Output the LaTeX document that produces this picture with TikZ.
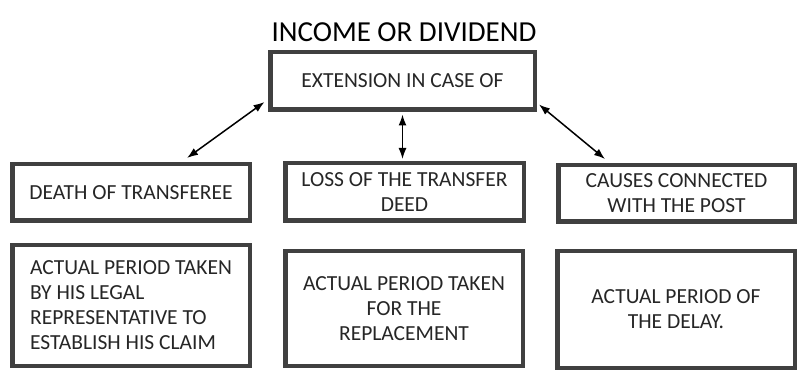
\documentclass[tikz,border=0pt]{standalone}
\usepackage{fontspec}
\setmainfont{Carlito}
\usetikzlibrary{arrows.meta,calc}
\definecolor{boxline}{HTML}{404040}
\definecolor{boxtext}{HTML}{262626}
\begin{document}
\begin{tikzpicture}[x=1pt,y=1pt,
  box/.style={draw=boxline, line width=4.5pt, fill=white, text=boxtext,
    font=\fontsize{21.5}{25}\selectfont, align=center, inner sep=0pt},
  link/.style={line width=1.5pt, {Latex[length=11pt,width=8pt]}-{Latex[length=11pt,width=8pt]}}]
\useasboundingbox (0,0) rectangle (808,372);
\fill[white] (0,0) rectangle (808,372);
\node[font=\fontsize{29}{34}\selectfont] (title) at (404,340) {INCOME OR DIVIDEND};
\node[box, minimum width=264.5pt, minimum height=57.5pt] (top) at (402.5,291) {EXTENSION IN CASE OF};
\node[box, minimum width=237.5pt, minimum height=56.5pt] (b1) at (131,179.5) {DEATH OF TRANSFEREE};
\node[box, minimum width=238.5pt, minimum height=57.5pt] (b2) at (404.5,180) {LOSS OF THE TRANSFER\\DEED};
\node[box, minimum width=236.5pt, minimum height=56.5pt] (b3) at (676.5,178.5) {CAUSES CONNECTED\\WITH THE POST};
\node[box, align=left, minimum width=237.5pt, minimum height=120.5pt] (b4) at (131,66.5) {ACTUAL PERIOD TAKEN\\BY HIS LEGAL\\REPRESENTATIVE TO\\ESTABLISH HIS CLAIM};
\node[box, minimum width=237.5pt, minimum height=114.5pt] (b5) at (404,63.5) {ACTUAL PERIOD TAKEN\\FOR THE\\REPLACEMENT};
\node[box, minimum width=237.5pt, minimum height=116.5pt] (b6) at (676,62.5) {ACTUAL PERIOD OF\\THE DELAY.};
\coordinate (l1) at ($(top.south west)+(-3.5,10)$);
\coordinate (l2) at ($(b1.north)+(56,4)$);
\coordinate (m1) at ($(top.south)+(0,-2.5)$);
\coordinate (m2) at ($(top.south |- b2.north)+(0,2)$);
\coordinate (r1) at ($(top.south east)+(2,7.5)$);
\coordinate (r2) at ($(b3.north)+(-71.5,4)$);
\draw[link] (l1) -- (l2);
\draw[link] (m1) -- (m2);
\draw[link] (r1) -- (r2);
\end{tikzpicture}
\end{document}
